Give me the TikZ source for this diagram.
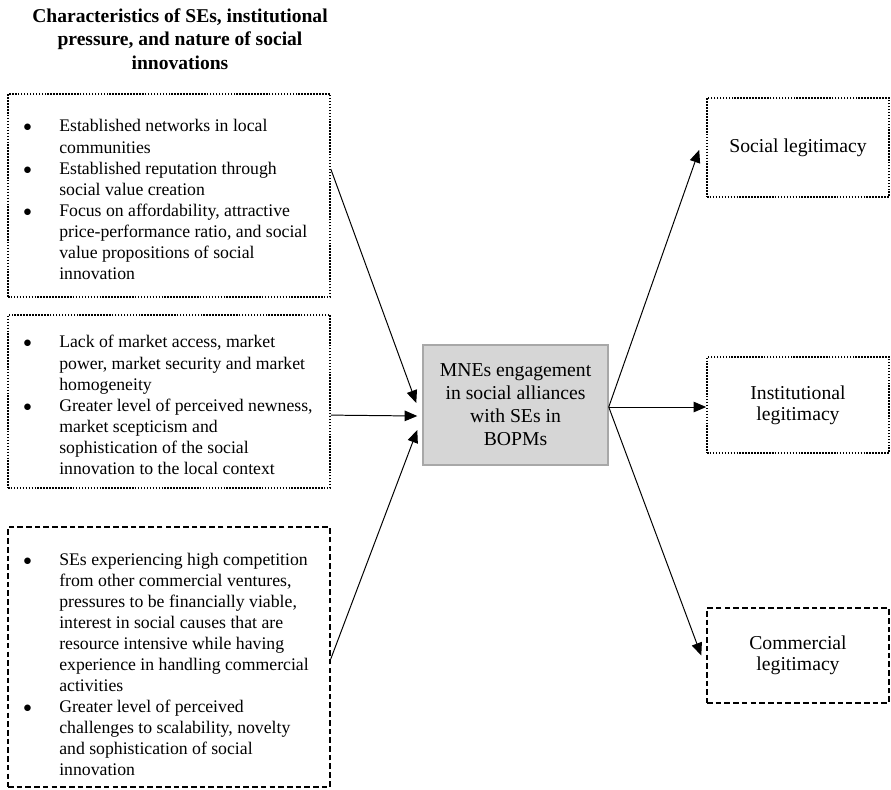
\documentclass[tikz,border=0pt]{standalone}
\usepackage{fontspec}
\setmainfont{Liberation Serif}
\usetikzlibrary{arrows.meta}

\definecolor{boxgray}{HTML}{D6D6D6}
\definecolor{edgegray}{HTML}{A8A8A8}

\newcommand{\blt}{$\bullet$}

\tikzset{
  dotbox/.style={draw, densely dotted, line width=1.1pt, inner sep=0pt},
  dashbox/.style={draw, dash pattern=on 4pt off 2.2pt, line width=1pt, inner sep=0pt},
  itemtext/.style={anchor=north west, inner sep=0pt, font=\fontsize{12.6}{14.94}\selectfont},
  legit/.style={minimum width=4.55cm, align=center, font=\fontsize{14}{15}\selectfont},
  link/.style={line width=0.7pt, -{Triangle[length=9pt,width=7.5pt]}},
}

\begin{document}
\begin{tikzpicture}[x=0.025cm, y=-0.025cm]
\useasboundingbox (0,0) rectangle (891,789);

% heading
\node[align=center, font=\bfseries\fontsize{13.9}{16.7}\selectfont] (title) at (180,39)
  {Characteristics of SEs, institutional\\pressure, and nature of social\\innovations};

% left boxes
\node[dotbox, minimum width=8.05cm, minimum height=5.075cm] (chars) at (169,195.5) {};
\node[dotbox, minimum width=8.05cm, minimum height=4.325cm] (market) at (169,401.5) {};
\node[dashbox, minimum width=8.05cm, minimum height=6.5cm] (compet) at (169,657) {};

\node[itemtext] (charslist) at (23,117) {\begin{tabular}{@{}p{0.9cm}@{}l@{}}
\blt & Established networks in local\\
 & communities\\
\blt & Established reputation through\\
 & social value creation\\
\blt & Focus on affordability, attractive\\
 & price-performance ratio, and social\\
 & value propositions of social\\
 & innovation
\end{tabular}};

\node[itemtext] (marketlist) at (23,333) {\begin{tabular}{@{}p{0.9cm}@{}l@{}}
\blt & Lack of market access, market\\
 & power, market security and market\\
 & homogeneity\\
\blt & Greater level of perceived newness,\\
 & market scepticism and\\
 & sophistication of the social\\
 & innovation to the local context
\end{tabular}};

\node[itemtext] (competlist) at (23,550) {\begin{tabular}{@{}p{0.9cm}@{}l@{}}
\blt & SEs experiencing high competition\\
 & from other commercial ventures,\\
 & pressures to be financially viable,\\
 & interest in social causes that are\\
 & resource intensive while having\\
 & experience in handling commercial\\
 & activities\\
\blt & Greater level of perceived\\
 & challenges to scalability, novelty\\
 & and sophistication of social\\
 & innovation
\end{tabular}};

% middle
\node[fill=boxgray, draw=edgegray, line width=1pt, minimum width=4.625cm, minimum height=3cm,
  align=center, font=\fontsize{14}{16.4}\selectfont] (engage) at (515.5,405)
  {MNEs engagement\\in social alliances\\with SEs in\\BOPMs};

% outcomes
\node[dotbox, legit, minimum height=2.475cm] (social) at (798,147.5) {Social legitimacy};
\node[dotbox, legit, minimum height=2.4cm] (instit) at (798,405) {Institutional\\legitimacy};
\node[dashbox, legit, minimum height=2.375cm] (commerc) at (798,655.5) {Commercial\\legitimacy};

% arrows
\draw[link] ([yshift=0.66cm]chars.east) -- ([xshift=-0.15cm,yshift=0.05cm]engage.west);
\draw[link] ([yshift=-0.34cm]market.east) -- ([xshift=-0.125cm,yshift=-0.275cm]engage.west);
\draw[link] ([yshift=-0.05cm]compet.east) -- ([xshift=-0.125cm,yshift=-0.625cm]engage.west);

\draw[link] ([yshift=-0.05cm]engage.east) -- ([xshift=-0.175cm,yshift=-0.06cm]social.west);
\draw[link] ([yshift=-0.05cm]engage.east) -- ([yshift=-0.05cm]instit.west);
\draw[link] ([yshift=-0.05cm]engage.east) -- ([xshift=-0.125cm]commerc.west);
\end{tikzpicture}
\end{document}
